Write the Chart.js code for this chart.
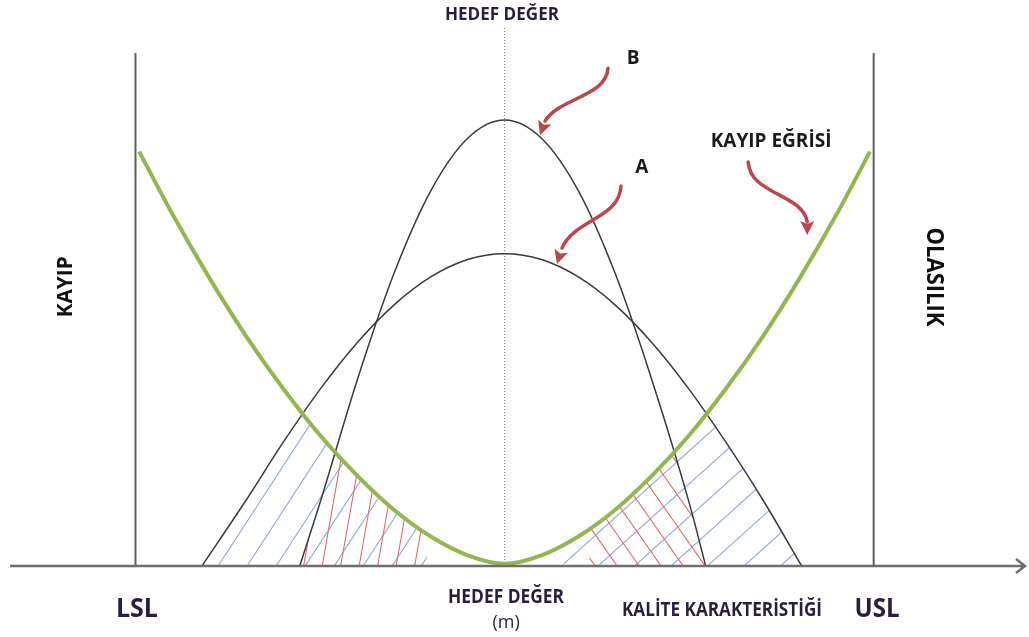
<!DOCTYPE html>
<html>
<head>
<meta charset="utf-8">
<script src="https://cdn.jsdelivr.net/npm/chart.js@4.4.1/dist/chart.umd.min.js"></script>
<style>
  html, body { margin: 0; padding: 0; background: #fff; }
  #wrap { width: 1029px; height: 637px; position: relative; }
</style>
</head>
<body>
<div id="wrap"><canvas id="lossChart"></canvas></div>
<script>
// spec limits and target on the quality characteristic axis
const LSL = -10;
const USL = 10;
const TARGET = 0;
const limitTop = 115;
const targetTop = 120.6;

// loss curve (KAYIP EĞRİSİ)
const lossX = [-9.9, -9, -8, -7, -6, -5, -4, -3, -2, -1, 0, 1, 2, 3, 4, 5, 6, 7, 8, 9, 9.9];
const lossY = [92.9, 78.9, 64.6, 51.5, 39.8, 29.3, 20.3, 12.6, 6.6, 2.4, 0.5, 2.4, 6.6, 12.6, 20.3, 29.3, 39.8, 51.5, 64.6, 78.9, 92.9];

// process A (wide spread)
const distAX = [-8.2, -7, -6, -5, -4, -3, -2, -1, 0, 1, 2, 3, 4, 5, 6, 7, 8.05];
const distAY = [0, 14.8, 27.7, 39.6, 50.0, 58.5, 64.8, 68.7, 70, 68.7, 64.8, 58.5, 50.0, 39.6, 27.7, 14.8, 0];

// process B (narrow spread)
const distBX = [-5.55, -5, -4, -3, -2, -1, 0, 1, 2, 3, 4, 5, 5.45];
const distBY = [0, 14.2, 41.5, 65.5, 84.1, 95.9, 100, 95.9, 84.1, 65.5, 41.5, 14.2, 0];

// hatched tails stop short of the target
const hatchLeftEnd = -2.1;
const hatchRightStartA = 1.6;
const hatchRightStartB = 2.3;

const pts = (xs, ys) => xs.map((x, i) => ({ x: x, y: ys[i] }));

const INK = '#2b1d3f';
const notes = [
  { text: 'HEDEF DEĞER', x: -0.07, y: 122.4, size: 18, width: 114, color: INK },
  { text: 'B', x: 3.48, y: 112.6, size: 19, color: '#1a1a1a' },
  { text: 'A', x: 3.72, y: 88.1, size: 19, color: '#1a1a1a' },
  { text: 'KAYIP EĞRİSİ', x: 7.22, y: 93.9, size: 19, width: 123, color: '#1a1a1a' },
  { text: 'KAYIP', x: -11.72, y: 62.6, size: 21, width: 61, rot: -90, color: '#111' },
  { text: 'OLASILIK', x: 11.44, y: 64.8, size: 23, width: 99, rot: 90, color: '#111' },
  { text: 'LSL', x: -9.96, y: -11.4, size: 26, width: 42, color: INK },
  { text: 'HEDEF DEĞER', x: 0.04, y: -8.3, size: 19, width: 116, color: INK },
  { text: '(m)', x: 0.04, y: -13.9, size: 18, weight: 'normal', color: INK },
  { text: 'KALİTE KARAKTERİSTİĞİ', x: 5.89, y: -11.2, size: 19, width: 200, color: INK },
  { text: 'USL', x: 10.09, y: -11.4, size: 26, width: 45, color: INK }
];

// curved pointers: tip in data units, shape in px relative to the tip
const pointers = [
  { x: 0.96, y: 96.6, path: [[68, -67], [66, -38], [20, -38], [5, -14]] },
  { x: 1.42, y: 67.7, path: [[64, -78], [62, -45], [18, -45], [5, -16]] },
  { x: 8.2, y: 74.2, path: [[-59, -73], [-57, -40], [-5, -42], [0, -13]] }
];

function hatch(ctx, area, baseY, x0, step, angle, color) {
  const run = (baseY - area.top) / Math.tan(angle * Math.PI / 180);
  const kMin = Math.floor((area.left - Math.max(run, 0) - x0) / step) - 2;
  const kMax = Math.ceil((area.right - Math.min(run, 0) - x0) / step) + 2;
  ctx.strokeStyle = color;
  ctx.lineWidth = 1.1;
  ctx.beginPath();
  for (let k = kMin; k <= kMax; k++) {
    const bx = x0 + k * step;
    ctx.moveTo(bx - run * 0.02, baseY + (baseY - area.top) * 0.02);
    ctx.lineTo(bx + run, area.top);
  }
  ctx.stroke();
}

function curvePath(chart, index) {
  const line = chart.getDatasetMeta(index).dataset;
  line.updateControlPoints(chart.chartArea, 'x');
  return line;
}

const hatchPlugin = {
  id: 'tailHatch',
  beforeDatasetsDraw(chart) {
    const ctx = chart.ctx;
    const area = chart.chartArea;
    const xs = chart.scales.x, ys = chart.scales.y;
    const base = ys.getPixelForValue(0);
    const loss = curvePath(chart, 0);
    const lines = { A: curvePath(chart, 1), B: curvePath(chart, 2) };

    const zones = [
      { curve: 'A', from: area.left, to: xs.getPixelForValue(hatchLeftEnd), anchor: -7.76, step: 29, angle: 57, color: '#8ea9d8' },
      { curve: 'B', from: area.left, to: xs.getPixelForValue(hatchLeftEnd), anchor: -3.94, step: 18.5, angle: 80, color: '#e06a6a' },
      { curve: 'A', from: xs.getPixelForValue(hatchRightStartA), to: area.right, anchor: 2.53, step: 36.5, angle: 42, color: '#8ea9d8' },
      { curve: 'B', from: xs.getPixelForValue(hatchRightStartB), to: area.right, anchor: 3.05, step: 22, angle: 125, color: '#e06a6a' }
    ];

    zones.forEach(z => {
      ctx.save();
      ctx.beginPath();
      ctx.rect(z.from, area.top, z.to - z.from, base - area.top);
      ctx.clip();
      // inside the distribution curve
      ctx.beginPath();
      lines[z.curve].path(ctx);
      ctx.closePath();
      ctx.clip();
      // below the loss curve
      const lp = loss.points;
      ctx.beginPath();
      loss.path(ctx);
      ctx.lineTo(lp[lp.length - 1].x, base);
      ctx.lineTo(lp[0].x, base);
      ctx.closePath();
      ctx.clip();
      hatch(ctx, area, base, xs.getPixelForValue(z.anchor), z.step, z.angle, z.color);
      ctx.restore();
    });
  },
  afterDatasetsDraw(chart) {
    const ctx = chart.ctx;
    const area = chart.chartArea;
    const xs = chart.scales.x, ys = chart.scales.y;
    const base = ys.getPixelForValue(0);

    // horizontal axis with open arrow
    ctx.save();
    ctx.strokeStyle = '#6e6e6e';
    ctx.lineWidth = 2.5;
    ctx.beginPath();
    ctx.moveTo(area.left, base);
    ctx.lineTo(area.right, base);
    ctx.moveTo(area.right - 9, base - 7);
    ctx.lineTo(area.right, base);
    ctx.lineTo(area.right - 9, base + 7);
    ctx.stroke();

    // curved red pointers
    pointers.forEach(p => {
      const tx = xs.getPixelForValue(p.x), ty = ys.getPixelForValue(p.y);
      const q = p.path.map(c => [tx + c[0], ty + c[1]]);
      ctx.strokeStyle = '#b9474c';
      ctx.fillStyle = '#b9474c';
      ctx.lineWidth = 3.5;
      ctx.lineCap = 'round';
      ctx.beginPath();
      ctx.moveTo(q[0][0], q[0][1]);
      ctx.bezierCurveTo(q[1][0], q[1][1], q[2][0], q[2][1], q[3][0], q[3][1]);
      ctx.stroke();
      const dx = tx - q[3][0], dy = ty - q[3][1];
      const len = Math.hypot(dx, dy);
      const ux = dx / len, uy = dy / len;
      const bx = tx - ux * 14, by = ty - uy * 14;
      ctx.beginPath();
      ctx.moveTo(tx, ty);
      ctx.lineTo(bx - uy * 7, by + ux * 7);
      ctx.lineTo(bx + ux * 3, by + uy * 3);
      ctx.lineTo(bx + uy * 7, by - ux * 7);
      ctx.closePath();
      ctx.fill();
    });
    ctx.restore();
  },
  afterDraw(chart) {
    const ctx = chart.ctx;
    const xs = chart.scales.x, ys = chart.scales.y;
    ctx.save();
    notes.forEach(n => {
      ctx.save();
      ctx.translate(xs.getPixelForValue(n.x), ys.getPixelForValue(n.y));
      if (n.rot) ctx.rotate(n.rot * Math.PI / 180);
      ctx.font = (n.weight || 'bold') + ' ' + n.size + 'px "Open Sans", Lato, sans-serif';
      ctx.fillStyle = n.color;
      ctx.textAlign = 'center';
      ctx.textBaseline = 'alphabetic';
      if (n.width) ctx.fillText(n.text, 0, 0, n.width);
      else ctx.fillText(n.text, 0, 0);
      ctx.restore();
    });
    ctx.restore();
  }
};

const curveStyle = {
  pointRadius: 0,
  cubicInterpolationMode: 'monotone',
  clip: false,
  fill: false
};

new Chart(document.getElementById('lossChart'), {
  type: 'line',
  data: {
    datasets: [
      Object.assign({ label: 'Kayıp', data: pts(lossX, lossY), borderColor: '#93b653', borderWidth: 4 }, curveStyle),
      Object.assign({ label: 'A', data: pts(distAX, distAY), borderColor: '#3a3a3a', borderWidth: 1.5 }, curveStyle),
      Object.assign({ label: 'B', data: pts(distBX, distBY), borderColor: '#3a3a3a', borderWidth: 1.5 }, curveStyle),
      { label: 'LSL', data: [{ x: LSL, y: 0 }, { x: LSL, y: limitTop }], borderColor: '#5e5e5e', borderWidth: 2, pointRadius: 0, clip: false },
      { label: 'USL', data: [{ x: USL, y: 0 }, { x: USL, y: limitTop }], borderColor: '#5e5e5e', borderWidth: 2, pointRadius: 0, clip: false },
      { label: 'm', data: [{ x: TARGET, y: 0 }, { x: TARGET, y: targetTop }], borderColor: '#777', borderWidth: 1, borderDash: [1, 2], pointRadius: 0, clip: false }
    ]
  },
  options: {
    responsive: true,
    maintainAspectRatio: false,
    animation: false,
    layout: { padding: { left: 10, right: 4, top: 4, bottom: 71 } },
    plugins: {
      legend: { display: false },
      tooltip: { enabled: false }
    },
    scales: {
      x: { type: 'linear', min: -13.4, max: 14.1, display: false },
      y: { min: 0, max: 126, display: false }
    }
  },
  plugins: [hatchPlugin]
});
</script>
</body>
</html>
